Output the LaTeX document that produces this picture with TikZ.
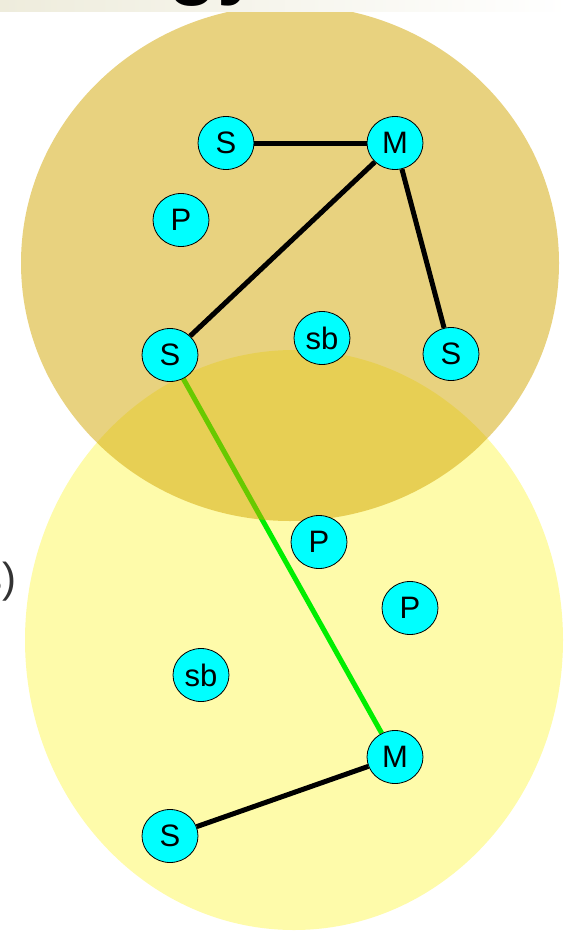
\documentclass[tikz,border=0pt]{standalone}
\usepackage{fontspec}
\setmainfont{Liberation Sans}
\usetikzlibrary{shapes.geometric}
\definecolor{clanfill}{RGB}{209,165,0}
\definecolor{zonefill}{RGB}{254,251,170}
\definecolor{peercyan}{HTML}{00FFFF}
\definecolor{linkgreen}{HTML}{00EE00}
\definecolor{bandgrey}{HTML}{EEECDC}
\definecolor{captgrey}{HTML}{333333}
\pgfdeclarelayer{zones}
\pgfdeclarelayer{tint}
\pgfsetlayers{zones,tint,main}
\tikzset{
  peer/.style={ellipse, draw=black, line width=0.8pt, fill=peercyan, minimum width=56pt,
               minimum height=53pt, inner sep=0pt, font=\fontsize{31}{31}\selectfont},
  link/.style={line width=5pt, draw=black},
  bridge/.style={line width=5pt, draw=linkgreen},
}
\begin{document}
\begin{tikzpicture}[x=1pt, y=-1pt]
    \useasboundingbox (0,0) rectangle (569,931);
    \shade[left color=bandgrey, right color=white] (0,0) rectangle (569,12);
    \node[font=\fontsize{80}{80}\selectfont\bfseries, anchor=base west, inner sep=0pt] (title) at (168,-10) {gy};
    \node[font=\fontsize{42}{42}\selectfont, text=captgrey, anchor=east, inner sep=0pt] (side) at (17,582) {s)};
    % upper group
    \node[peer] (s1) at (226,143) {S};
    \node[peer] (m1) at (395,143) {M};
    \node[peer] (p1) at (181,220) {P};
    \node[peer] (s2) at (170,355) {S};
    \node[peer] (sb1) at (322,338) {sb};
    \node[peer] (s3) at (451,354) {S};
    % lower group
    \node[peer] (p2) at (319,542) {P};
    \node[peer] (p3) at (410,608) {P};
    \node[peer] (sb2) at (201,675) {sb};
    \node[peer] (m2) at (395,757) {M};
    \node[peer] (s4) at (170,836) {S};
    \begin{pgfonlayer}{zones}
      \fill[zonefill] (294,640) ellipse [x radius=269, y radius=290];
      \draw[bridge] (s2) -- (m2);
    \end{pgfonlayer}
    \begin{pgfonlayer}{tint}
      \fill[clanfill, fill opacity=0.5] (290,263) ellipse [x radius=269, y radius=258];
    \end{pgfonlayer}
    \draw[link] (s1) -- (m1);
    \draw[link] (m1) -- (s2);
    \draw[link] (m1) -- (s3);
    \draw[link] (m2) -- (s4);
  \end{tikzpicture}
\end{document}
